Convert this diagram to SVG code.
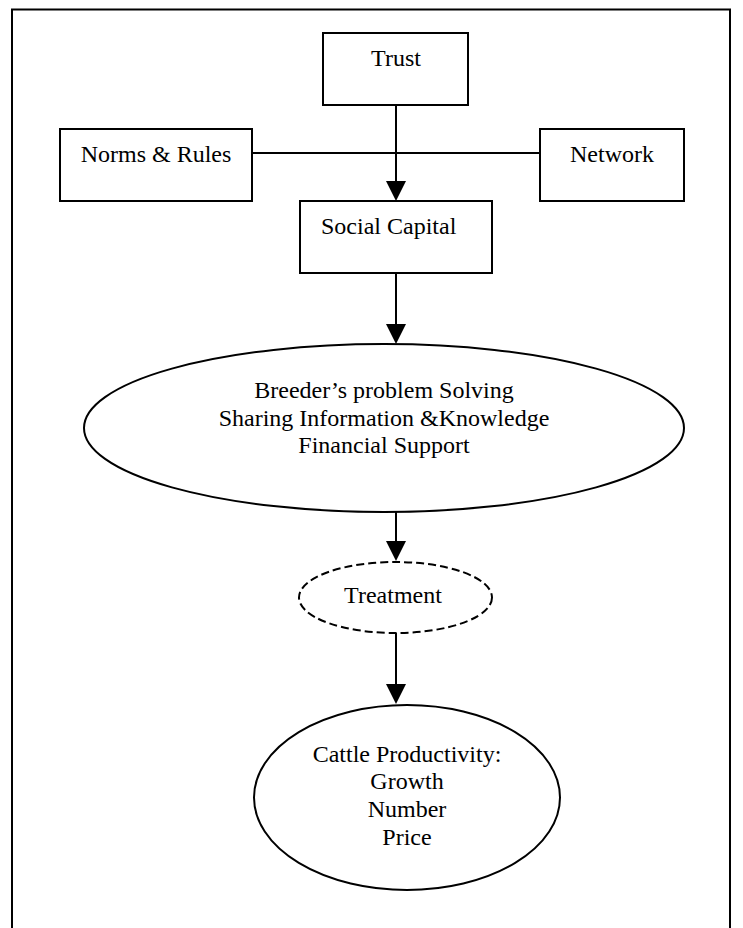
<svg xmlns="http://www.w3.org/2000/svg" width="743" height="928" viewBox="0 0 743 928">
  <style>
    .box { fill: #ffffff; stroke: #000000; stroke-width: 2; }
    .oval { fill: #ffffff; stroke: #000000; stroke-width: 2; }
    .dashed { stroke-dasharray: 8 4; }
    .wire { fill: none; stroke: #000000; stroke-width: 2; }
    text { font-family: "Liberation Serif", "Times New Roman", serif; font-size: 24px; fill: #000000; }
    .c { text-anchor: middle; }
  </style>
  <defs>
    <marker id="head" viewBox="0 0 20 20" refX="16" refY="10" markerWidth="20" markerHeight="20" markerUnits="userSpaceOnUse" orient="auto">
      <path d="M0,0 L20,10 L0,20 Z" fill="#000000"/>
    </marker>
  </defs>

  <rect width="743" height="928" fill="#ffffff"/>

  <!-- page frame (open at the bottom) -->
  <path d="M12,940 V9.5 H730 V940" fill="none" stroke="#000000" stroke-width="2"/>

  <!-- connectors -->
  <g id="connectors">
    <line class="wire" x1="252" y1="153" x2="540" y2="153"/>
    <line class="wire" x1="396" y1="105" x2="396" y2="197" marker-end="url(#head)"/>
    <line class="wire" x1="396" y1="273" x2="396" y2="340" marker-end="url(#head)"/>
    <line class="wire" x1="396" y1="512" x2="396" y2="557" marker-end="url(#head)"/>
    <line class="wire" x1="396" y1="633" x2="396" y2="700" marker-end="url(#head)"/>
  </g>

  <g id="trust">
    <rect class="box" x="323" y="33" width="145" height="72"/>
    <text class="c" x="396" y="66">Trust</text>
  </g>

  <g id="norms-rules">
    <rect class="box" x="60" y="129" width="192" height="72"/>
    <text class="c" x="156" y="162">Norms &amp; Rules</text>
  </g>

  <g id="network">
    <rect class="box" x="540" y="129" width="144" height="72"/>
    <text class="c" x="612" y="162">Network</text>
  </g>

  <g id="social-capital">
    <rect class="box" x="300" y="201" width="192" height="72"/>
    <text x="321" y="234">Social Capital</text>
  </g>

  <g id="outcomes">
    <ellipse class="oval" cx="384" cy="428" rx="300" ry="84"/>
    <text class="c" x="384" y="398">Breeder’s problem Solving</text>
    <text class="c" x="384" y="426">Sharing Information &amp;Knowledge</text>
    <text class="c" x="384" y="453">Financial Support</text>
  </g>

  <g id="treatment">
    <ellipse class="oval dashed" cx="395.5" cy="597.5" rx="96.5" ry="35.5"/>
    <text class="c" x="393" y="603">Treatment</text>
  </g>

  <g id="cattle-productivity">
    <ellipse class="oval" cx="407" cy="797.5" rx="153" ry="92.5"/>
    <text class="c" x="407" y="762">Cattle Productivity:</text>
    <text class="c" x="407" y="789">Growth</text>
    <text class="c" x="407" y="817">Number</text>
    <text class="c" x="407" y="845">Price</text>
  </g>
</svg>
